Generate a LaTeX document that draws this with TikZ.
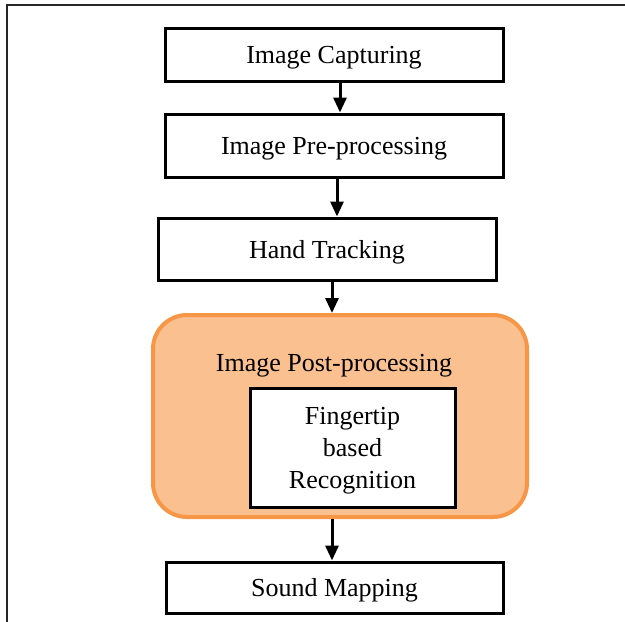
\documentclass[tikz,border=0pt]{standalone}
\usepackage{fontspec}
\setmainfont{Liberation Serif}
\usetikzlibrary{arrows.meta,calc}
\definecolor{orfill}{HTML}{FAC090}
\definecolor{ordraw}{HTML}{F79646}
\begin{document}
\begin{tikzpicture}[x=1pt,y=-1pt,
  box/.style={draw=black,line width=3pt,fill=white,inner sep=0pt,align=center,
    font=\fontsize{26}{32}\selectfont},
  one/.style={text height=24pt,text depth=6pt},
  arr/.style={line width=3pt,-{Triangle[width=13pt,length=15pt]}},
  lbl/.style={inner sep=0pt,align=center,font=\fontsize{26}{32}\selectfont}]
\useasboundingbox (0,0) rectangle (625,622);
\draw[line width=1.5pt,black!85] (625,5) -- (7,5) -- (7,622);
\node[box,one,minimum width=338pt,minimum height=53pt] (b1) at (334,54.5) {Image Capturing};
\node[box,one,minimum width=338pt,minimum height=63pt] (b2) at (334,145.5) {Image Pre-processing};
\node[box,one,minimum width=338pt,minimum height=62pt] (b3) at (327,249) {Hand Tracking};
\node[draw=ordraw,fill=orfill,line width=4pt,rounded corners=34pt,inner sep=0pt,
  minimum width=374pt,minimum height=202pt] (post) at (340,416) {};
\node[lbl,one] (postlbl) at (334,362) {Image Post-processing};
\node[box,minimum width=205pt,minimum height=119pt] (fing) at (352.5,447.5)
  {\raisebox{-3pt}[\height][\depth]{\begin{tabular}{@{}c@{}}Fingertip\\based\\Recognition\end{tabular}}};
\node[box,one,minimum width=337pt,minimum height=51pt] (snd) at (334.5,587.5) {Sound Mapping};
\draw[arr] ([xshift=6pt]b1.south) -- ([xshift=6pt]b1.south |- b2.north);
\draw[arr] ([xshift=3pt]b2.south) -- ([xshift=3pt]b2.south |- b3.north);
\draw[arr] ([xshift=5pt]b3.south) -- ([xshift=5pt]b3.south |- post.north);
\draw[arr] ([xshift=-8pt]post.south) -- ([xshift=-8pt]post.south |- snd.north);
\end{tikzpicture}
\end{document}
